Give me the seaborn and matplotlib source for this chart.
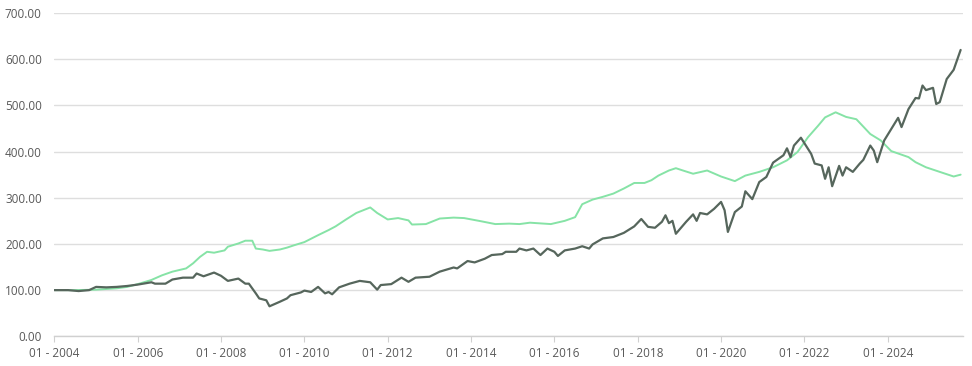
import pandas as pd
import matplotlib
matplotlib.use("Agg")
import matplotlib.pyplot as plt
import matplotlib.dates as mdates
from matplotlib.ticker import FuncFormatter
import seaborn as sns

# Dark series
dark_months = ["2004-01","2004-05","2004-08","2004-11","2005-01","2005-04","2005-07","2005-10",
    "2006-01","2006-05","2006-06","2006-09","2006-11","2007-02","2007-05","2007-06","2007-08","2007-11",
    "2008-01","2008-03","2008-06","2008-08","2008-09","2008-11","2008-12","2009-02","2009-03","2009-06",
    "2009-08","2009-09","2009-12","2010-01","2010-03","2010-05","2010-07","2010-08","2010-09","2010-11",
    "2011-02","2011-05","2011-08","2011-10","2011-11","2012-02","2012-05","2012-07","2012-09","2013-01",
    "2013-04","2013-08","2013-09","2013-12","2014-02","2014-05","2014-07","2014-10","2014-11","2015-02",
    "2015-03","2015-05","2015-07","2015-09","2015-11","2016-01","2016-02","2016-04","2016-07","2016-09",
    "2016-11","2016-12","2017-03","2017-06","2017-09","2017-12","2018-02","2018-04","2018-06","2018-08",
    "2018-09","2018-10","2018-11","2018-12","2019-03","2019-05","2019-06","2019-07","2019-09","2019-11",
    "2020-01","2020-02","2020-03","2020-05","2020-07","2020-08","2020-10","2020-12","2021-02","2021-04",
    "2021-07","2021-08","2021-09","2021-10","2021-12","2022-02","2022-03","2022-04","2022-06","2022-07",
    "2022-08","2022-09","2022-11","2022-12","2023-01","2023-03","2023-05","2023-06","2023-08","2023-09",
    "2023-10","2023-12","2024-02","2024-04","2024-05","2024-07","2024-09","2024-10","2024-11","2024-12",
    "2025-02","2025-03","2025-04","2025-06","2025-08","2025-10"]
dark_values = [100,100,98,100,107,106,107,109,
    112,117,114,114,123,127,127,136,130,138,
    131,120,125,114,114,93,82,78,65,75,
    82,89,95,99,96,107,93,96,91,106,
    114,120,117,101,111,113,127,118,127,129,
    140,149,147,163,160,168,176,178,183,183,
    190,186,190,176,190,183,174,186,190,195,
    190,199,212,215,224,238,254,237,235,248,
    262,245,250,222,248,264,250,267,264,276,
    291,273,226,269,281,314,297,334,345,376,
    392,407,388,413,430,406,395,374,370,341,
    366,325,369,348,366,356,374,382,413,402,
    377,424,449,473,453,492,516,515,543,533,
    538,503,507,557,577,620]

# Green series
green_months = ["2004-01","2004-07","2005-01","2005-07","2005-10","2006-01","2006-05","2006-08",
    "2006-11","2007-03","2007-05","2007-07","2007-09","2007-11","2008-02","2008-03","2008-06","2008-08",
    "2008-10","2008-11","2009-01","2009-03","2009-06","2009-08","2009-10","2010-01","2010-05","2010-08",
    "2010-10","2011-01","2011-04","2011-08","2011-10","2012-01","2012-04","2012-07","2012-08","2012-12",
    "2013-04","2013-08","2013-11","2014-04","2014-08","2014-12","2015-03","2015-06","2015-12","2016-04",
    "2016-07","2016-09","2016-12","2017-03","2017-06","2017-09","2017-12","2018-03","2018-05","2018-07",
    "2018-10","2018-12","2019-02","2019-05","2019-09","2020-01","2020-05","2020-08","2020-12","2021-04",
    "2021-08","2021-11","2022-02","2022-05","2022-07","2022-10","2023-01","2023-04","2023-06","2023-08",
    "2023-11","2024-02","2024-07","2024-09","2024-12","2025-04","2025-08","2025-10"]
green_values = [100,100,101,104,107,113,122,132,
    140,147,158,172,183,181,186,194,201,207,
    207,190,188,185,188,192,197,204,219,230,
    238,253,267,279,267,253,256,251,242,243,
    255,257,256,249,243,244,243,246,243,250,
    258,286,296,302,309,320,332,332,338,348,
    359,364,359,352,359,346,336,348,356,366,
    381,399,431,456,474,485,475,470,454,438,
    424,401,388,377,366,356,346,350]

y_ticks = [0, 100, 200, 300, 400, 500, 600, 700]

dark_df = pd.DataFrame({"date": pd.to_datetime(dark_months), "value": dark_values})
green_df = pd.DataFrame({"date": pd.to_datetime(green_months), "value": green_values})

sns.set_theme(style="white")
plt.rcParams["font.family"] = ["Open Sans", "DejaVu Sans"]

fig = plt.figure(figsize=(9.72, 3.66), dpi=100)
ax = fig.add_axes([0.0559, 0.0811, 0.9351, 0.8834])

sns.lineplot(data=green_df, x="date", y="value", ax=ax, color="#86e3a6", linewidth=1.4)
sns.lineplot(data=dark_df, x="date", y="value", ax=ax, color="#56665c", linewidth=1.6)

ax.set_ylim(0, 700)
ax.set_yticks(y_ticks)
ax.yaxis.set_major_formatter(FuncFormatter(lambda v, p: f"{v:.2f}"))
ax.set_xlim(pd.Timestamp("2004-01-01"), pd.Timestamp("2025-10-24"))
ax.xaxis.set_major_locator(mdates.YearLocator(2, month=1, day=1))
ax.xaxis.set_major_formatter(mdates.DateFormatter("01 - %Y"))

ax.grid(axis="y", color="#dedede", linewidth=1.0)
ax.grid(axis="x", visible=False)
ax.set_axisbelow(True)
for s in ["top", "right", "left"]:
    ax.spines[s].set_visible(False)
ax.spines["bottom"].set_color("#d0d0d0")
ax.spines["bottom"].set_linewidth(1.0)

ax.tick_params(axis="y", length=0, pad=9, labelsize=8.5, labelcolor="#595959")
ax.tick_params(axis="x", length=4, width=0.8, color="#d0d0d0", pad=4, labelsize=8.5,
               labelcolor="#595959", bottom=True)
ax.set_xlabel("")
ax.set_ylabel("")

fig.savefig("out.png", dpi=100)
